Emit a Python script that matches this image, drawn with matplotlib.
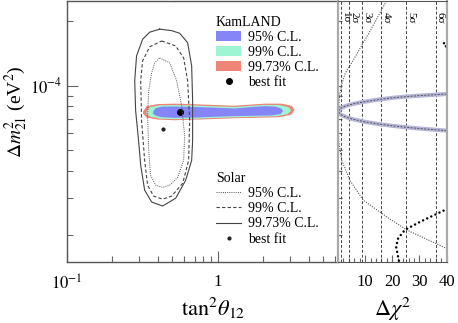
import numpy as np
import matplotlib.pyplot as plt
from matplotlib.lines import Line2D
from matplotlib.patches import Patch
from matplotlib.ticker import MultipleLocator, NullFormatter

plt.rcParams['font.family'] = 'serif'
plt.rcParams['font.serif'] = ['Liberation Serif', 'DejaVu Serif']
plt.rcParams['mathtext.fontset'] = 'stix'

# KamLAND allowed regions: tan^2(theta12), dm^2_21 [1e-5 eV^2]
kl95_t = [0.372, 0.387, 0.430, 0.517, 0.701, 0.951, 1.29, 1.62, 2.04, 2.41, 2.64, 2.70,
          2.60, 2.27, 1.75, 1.29, 0.951, 0.701, 0.517, 0.424, 0.387, 0.372]
kl95_m = [7.57, 7.86, 7.99, 8.00, 7.96, 7.90, 7.83, 7.94, 8.03, 7.99, 7.82, 7.61,
          7.37, 7.27, 7.24, 7.21, 7.16, 7.10, 7.08, 7.13, 7.25, 7.41]
kl99_t = [0.336, 0.353, 0.411, 0.517, 0.701, 0.951, 1.29, 1.62, 2.04, 2.56, 2.94, 3.06,
          2.89, 2.49, 1.75, 1.29, 0.951, 0.701, 0.517, 0.411, 0.353, 0.336]
kl99_m = [7.57, 7.94, 8.10, 8.13, 8.09, 8.02, 7.96, 8.05, 8.14, 8.13, 7.94, 7.65,
          7.37, 7.21, 7.16, 7.12, 7.07, 7.01, 6.98, 7.02, 7.18, 7.41]
kl3s_t = [0.319, 0.337, 0.399, 0.517, 0.701, 0.951, 1.29, 1.62, 2.04, 2.64, 3.08, 3.22,
          3.08, 2.56, 1.75, 1.29, 0.951, 0.701, 0.517, 0.399, 0.337, 0.319]
kl3s_m = [7.57, 8.03, 8.21, 8.25, 8.20, 8.13, 8.07, 8.16, 8.25, 8.25, 8.07, 7.73,
          7.33, 7.13, 7.08, 7.05, 6.99, 6.94, 6.90, 6.95, 7.10, 7.41]
kl_island_t = [0.46, 0.49, 0.53, 0.57, 0.55, 0.50]
kl_island_m = [26.0, 24.75, 24.7, 25.2, 26.0, 26.5]
kl_best = (0.56, 7.58)

# Solar allowed regions
sol95_t = [0.411, 0.479, 0.533, 0.575, 0.602, 0.593, 0.541, 0.479, 0.430, 0.387, 0.358,
           0.348, 0.342, 0.348, 0.364, 0.381]
sol95_m = [13.5, 12.8, 10.55, 8.07, 5.85, 4.48, 3.73, 3.43, 3.35, 3.43, 3.81,
           4.98, 7.25, 9.48, 11.5, 12.8]
sol99_t = [0.424, 0.525, 0.593, 0.630, 0.650, 0.640, 0.584, 0.494, 0.430, 0.375, 0.342,
           0.327, 0.312, 0.308, 0.317, 0.353]
sol99_m = [16.2, 15.35, 13.5, 10.55, 6.87, 4.48, 3.50, 3.05, 2.95, 3.05, 3.43,
           4.48, 6.87, 10.55, 13.07, 15.2]
sol3s_t = [0.411, 0.494, 0.558, 0.630, 0.670, 0.680, 0.680, 0.670, 0.611, 0.525, 0.430,
           0.364, 0.327, 0.308, 0.298, 0.285, 0.281, 0.289, 0.317, 0.353]
sol3s_m = [18.4, 18.1, 17.6, 15.9, 12.4, 8.52, 5.55, 4.48, 3.61, 2.98, 2.74,
           2.86, 3.25, 4.24, 5.55, 7.65, 10.55, 13.79, 16.5, 17.8]
sol_best = (0.434, 6.31)

# Delta chi^2 profiles
kl_dchi = [0, 1, 3, 6, 10, 15, 20, 25, 30, 35, 40]
kl_m_up = [7.58, 7.86, 8.06, 8.25, 8.43, 8.62, 8.78, 8.90, 8.99, 9.07, 9.15]
kl_m_lo = [7.58, 7.33, 7.13, 6.95, 6.78, 6.62, 6.50, 6.40, 6.31, 6.24, 6.17]
sol_dchi = [19.0, 11.8, 5.5, 2.6, 1.4, 0.6, 0.2, 0.0, 0.3, 0.8, 1.4, 4.4, 9.3, 17.9, 25.3, 39.8]
sol_m = [26.5, 18.0, 13.1, 11.4, 10.2, 9.0, 7.8, 6.31, 5.5, 5.0, 4.48, 3.61, 2.92, 2.44, 2.12, 1.74]
low_dchi = [22.8, 21.4, 22.2, 24.7, 30.2, 39.8, 41.0]
low_m = [1.45, 1.77, 1.94, 2.12, 2.31, 2.64, 2.68]
high_dchi = [41.0, 38.8, 41.0]
high_m = [14.8, 15.7, 16.6]

sig_labels = ['1σ', '2σ', '3σ', '4σ', '5σ', '6σ']
sig_dchi = [1, 4, 9, 16, 25, 36]

c95, c99, c3s = '#8585f7', '#9ef5d3', '#ee8577'
e = 1e-5

fig = plt.figure(figsize=(4.58, 3.23), dpi=100)
ax = fig.add_axes([67/458, 1 - 262/323, 271/458, 262/323 - 0.002])
ax2 = fig.add_axes([338/458, 1 - 262/323, 108.5/458, 262/323 - 0.002], sharey=ax)

ax.fill(kl3s_t, np.array(kl3s_m)*e, color=c3s, lw=0)
ax.fill(kl99_t, np.array(kl99_m)*e, color=c99, lw=0)
ax.fill(kl95_t, np.array(kl95_m)*e, color=c95, lw=0)
ax.fill(kl_island_t, np.array(kl_island_m)*e, color=c95, ec=c3s, lw=0.6)
ax.plot(kl_best[0], kl_best[1]*e, 'ko', ms=4)

ax.plot(sol95_t + sol95_t[:1], np.array(sol95_m + sol95_m[:1])*e, color='#555', ls=(0, (1, 1.2)), lw=0.7)
ax.plot(sol99_t + sol99_t[:1], np.array(sol99_m + sol99_m[:1])*e, color='#444', ls=(0, (3, 2)), lw=0.8)
ax.plot(sol3s_t + sol3s_t[:1], np.array(sol3s_m + sol3s_m[:1])*e, color='#444', ls='-', lw=0.8)
ax.plot(sol_best[0], sol_best[1]*e, 'o', color='#222', ms=2)

ax.set_xscale('log')
ax.set_yscale('log')
ax.set_xlim(0.1, 6.25)
ax.set_ylim(1.5e-5, 2.5e-4)
ax.set_xticks([0.1, 1])
ax.set_xticklabels([r'$10^{-1}$', '1'])
ax.set_yticks([1e-4])
ax.set_yticklabels([r'$10^{-4}$'])
ax.xaxis.set_minor_formatter(NullFormatter())
ax.yaxis.set_minor_formatter(NullFormatter())
ax.tick_params(which='both', direction='in', top=False, right=False, color='#666', labelsize=12)
ax.tick_params(which='major', length=8, width=0.8)
ax.tick_params(which='minor', length=4, width=0.8)
ax.tick_params(axis='x', pad=9)
for s in ax.spines.values():
    s.set_color('#555')
    s.set_linewidth(1.0)
ax.spines['right'].set_visible(False)
ax.set_xlabel(r'$\mathrm{tan}^2\theta_{12}$', fontsize=16, labelpad=2)
ax.xaxis.set_label_coords(0.54, -0.13)
ax.set_ylabel(r'$\Delta m^2_{21}$ (eV$^2$)', fontsize=14)
ax.yaxis.set_label_coords(-0.135, 0.575)

kl_h = [Patch(fc=c95, ec='none'), Patch(fc=c99, ec='none'), Patch(fc=c3s, ec='none'),
        Line2D([], [], ls='none', marker='o', ms=4, color='k')]
leg1 = ax.legend(kl_h, ['95% C.L.', '99% C.L.', '99.73% C.L.', 'best fit'], title='KamLAND',
                 loc='upper left', bbox_to_anchor=((216 - 67)/271, 1 - 15/262), frameon=False,
                 fontsize=10, title_fontsize=10, handlelength=1.8, handleheight=0.75,
                 labelspacing=0.15, handletextpad=0.5, borderpad=0, borderaxespad=0,
                 alignment='left')
ax.add_artist(leg1)
sol_h = [Line2D([], [], color='#555', ls=(0, (1, 1.2)), lw=0.7),
         Line2D([], [], color='#444', ls=(0, (3, 2)), lw=0.8),
         Line2D([], [], color='#444', ls='-', lw=0.8),
         Line2D([], [], ls='none', marker='o', ms=2, color='#222')]
ax.legend(sol_h, ['95% C.L.', '99% C.L.', '99.73% C.L.', 'best fit'], title='Solar',
          loc='upper left', bbox_to_anchor=((216 - 67)/271, 1 - 172/262), frameon=False,
          fontsize=10, title_fontsize=10, handlelength=1.8, handleheight=0.75,
          labelspacing=0.15, handletextpad=0.5, borderpad=0, borderaxespad=0,
          alignment='left')

# right panel
for lab, d in zip(sig_labels, sig_dchi):
    ax2.axvline(d, color='#444', ls=(0, (3, 2)), lw=0.7)
    ax2.text(d + 0.1, 0.955, lab, transform=ax2.get_xaxis_transform(), rotation=-90,
             ha='left', va='top', fontsize=8)
kl_x = kl_dchi[::-1] + kl_dchi[1:]
kl_y = np.array(kl_m_lo[::-1] + kl_m_up[1:])*e
ax2.plot(kl_x, kl_y, color='#b5b5d8', lw=3, solid_capstyle='butt')
ax2.plot(kl_x, kl_y, color='#555', lw=0.7, ls=(0, (2, 1.5)))
ax2.plot(sol_dchi, np.array(sol_m)*e, color='#555', ls=(0, (1, 1.2)), lw=0.8)
ax2.plot(low_dchi, np.array(low_m)*e, color='k', ls=(0, (0.01, 1.8)), lw=1.8,
         dash_capstyle='round')
ax2.plot(high_dchi, np.array(high_m)*e, color='k', ls=(0, (0.01, 1.8)), lw=1.8,
         dash_capstyle='round')

ax2.set_xlim(0, 40)
ax2.set_xticks([10, 20, 30, 40])
ax2.xaxis.set_minor_locator(MultipleLocator(2))
ax2.tick_params(which='both', direction='in', top=False, right=False, labelleft=False,
                color='#666', labelsize=12)
ax2.tick_params(which='major', length=5, width=0.8)
ax2.tick_params(which='minor', length=3, width=0.8)
ax2.tick_params(axis='y', which='both', length=3)
ax2.tick_params(axis='x', pad=9)
for s in ax2.spines.values():
    s.set_color('#555')
ax2.spines['left'].set_color('#aaa')
ax2.spines['left'].set_linewidth(1.6)
ax2.spines['right'].set_color('#aaa')
ax2.spines['right'].set_linewidth(1.6)
ax2.set_xlabel(r'$\Delta\chi^2$', fontsize=16, labelpad=2)
ax2.xaxis.set_label_coords(0.5, -0.13)

fig.savefig('out.png', dpi=100)
